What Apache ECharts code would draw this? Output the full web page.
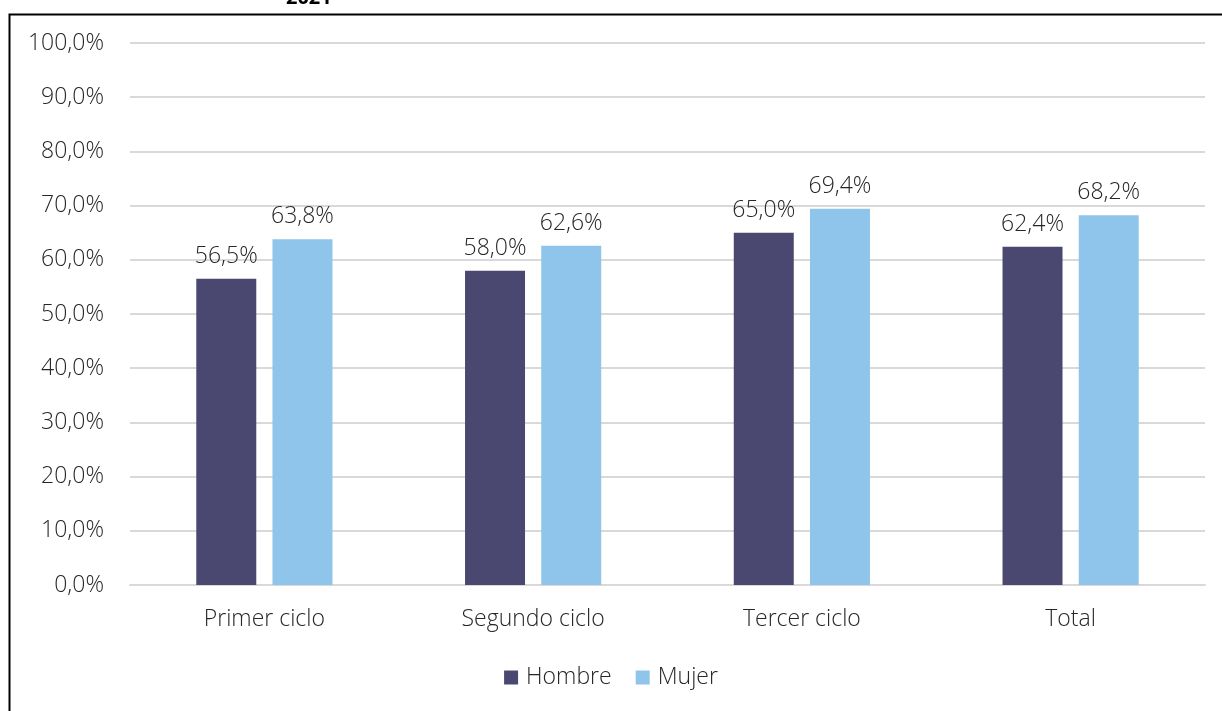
<!DOCTYPE html>
<html><head><meta charset="utf-8">
<script src="https://cdn.jsdelivr.net/npm/echarts@6/dist/echarts.min.js"></script>
<style>html,body{margin:0;padding:0;background:#fff}#c{width:1222px;height:711px}</style>
</head><body><div id="c"></div>
<script>
const categories = ['Primer ciclo', 'Segundo ciclo', 'Tercer ciclo', 'Total'];
const hombre = [56.5, 58.0, 65.0, 62.4];
const mujer = [63.8, 62.6, 69.4, 68.2];
const titleText = '2021';
const FONT = '"Open Sans", "Noto Sans", sans-serif';
const FS = 23;
const TXT = '#262626';
const fmt = v => v.toFixed(1).replace('.', ',') + '%';
const chart = echarts.init(document.getElementById('c'));
chart.setOption({
  animation: false,
  textStyle: { fontFamily: FONT },
  graphic: [
    { type: 'rect', left: 7, top: 12, shape: { width: 1300, height: 800 }, style: { fill: 'none', stroke: '#000', lineWidth: 2 } },
    { type: 'text', left: 286, top: -12, style: { text: titleText, font: 'bold 20px ' + FONT, fill: '#000' } }
  ],
  grid: { left: 130, right: 17, top: 43, bottom: 126 },
  legend: {
    bottom: 17, left: 'center', itemWidth: 14, itemHeight: 14, itemGap: 24,
    icon: 'rect',
    textStyle: { fontSize: FS, color: TXT, fontFamily: FONT, fontWeight: 300, padding: [0, 0, 0, 3] },
    data: ['Hombre', 'Mujer']
  },
  xAxis: {
    type: 'category', data: categories,
    axisLine: { lineStyle: { color: '#d9d9d9', width: 2 } },
    axisTick: { show: false },
    axisLabel: { fontSize: FS, color: TXT, margin: 23, fontFamily: FONT, fontWeight: 300 }
  },
  yAxis: {
    type: 'value', min: 0, max: 100, interval: 10,
    axisLine: { show: false }, axisTick: { show: false },
    splitLine: { lineStyle: { color: '#d9d9d9', width: 2 } },
    axisLabel: { fontSize: FS, color: TXT, margin: 26, formatter: v => fmt(v), fontFamily: FONT, fontWeight: 300 }
  },
  series: [
    { name: 'Hombre', type: 'bar', data: hombre, barWidth: 60, barGap: '27%',
      itemStyle: { color: '#4a4870' },
      label: { show: true, position: 'top', distance: 11, fontSize: FS, color: TXT, formatter: p => fmt(p.value), fontFamily: FONT, fontWeight: 300 } },
    { name: 'Mujer', type: 'bar', data: mujer, barWidth: 60,
      itemStyle: { color: '#8fc5ea' },
      label: { show: true, position: 'top', distance: 11, fontSize: FS, color: TXT, formatter: p => fmt(p.value), fontFamily: FONT, fontWeight: 300 } }
  ]
});
</script></body></html>
